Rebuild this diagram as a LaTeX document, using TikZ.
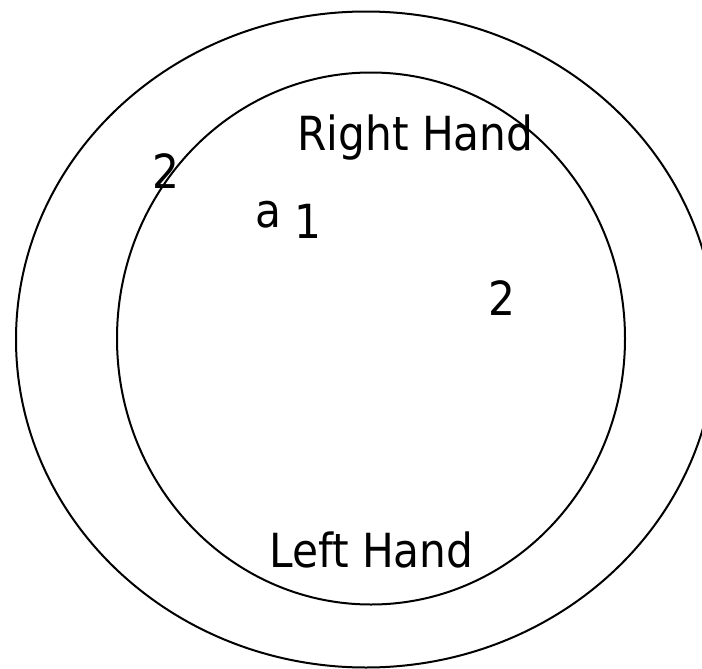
\documentclass[tikz,border=0pt]{standalone}
\usepackage{fontspec}
\setmainfont{DejaVu Sans Condensed}
\usetikzlibrary{positioning}

\tikzset{
  hand/.style={line width=1pt},
  lbl/.style={inner sep=0pt, anchor=base west, font=\fontsize{23.5}{28}\selectfont}
}

\begin{document}
\begin{tikzpicture}[x=0.5pt, y=-0.5pt]
\useasboundingbox (0,0) rectangle (702,669);
\clip (0,0) rectangle (702,669);

% Draw rings
\draw[hand] (366,339.5) ellipse [x radius=175pt, y radius=164pt];
\draw[hand] (371,338.5) ellipse [x radius=127pt, y radius=133pt];

% Labels
\node[lbl] (right) at (297,150) {Right Hand};
\node[lbl] (left) at (269,567) {Left Hand};
\node[lbl] (twoA) at (152,188) {2};
\node[lbl] (a) at (255,227) {a};
\node[lbl] (one) at (294,238) {1};
\node[lbl] (twoB) at (488,315) {2};
\end{tikzpicture}
\end{document}
